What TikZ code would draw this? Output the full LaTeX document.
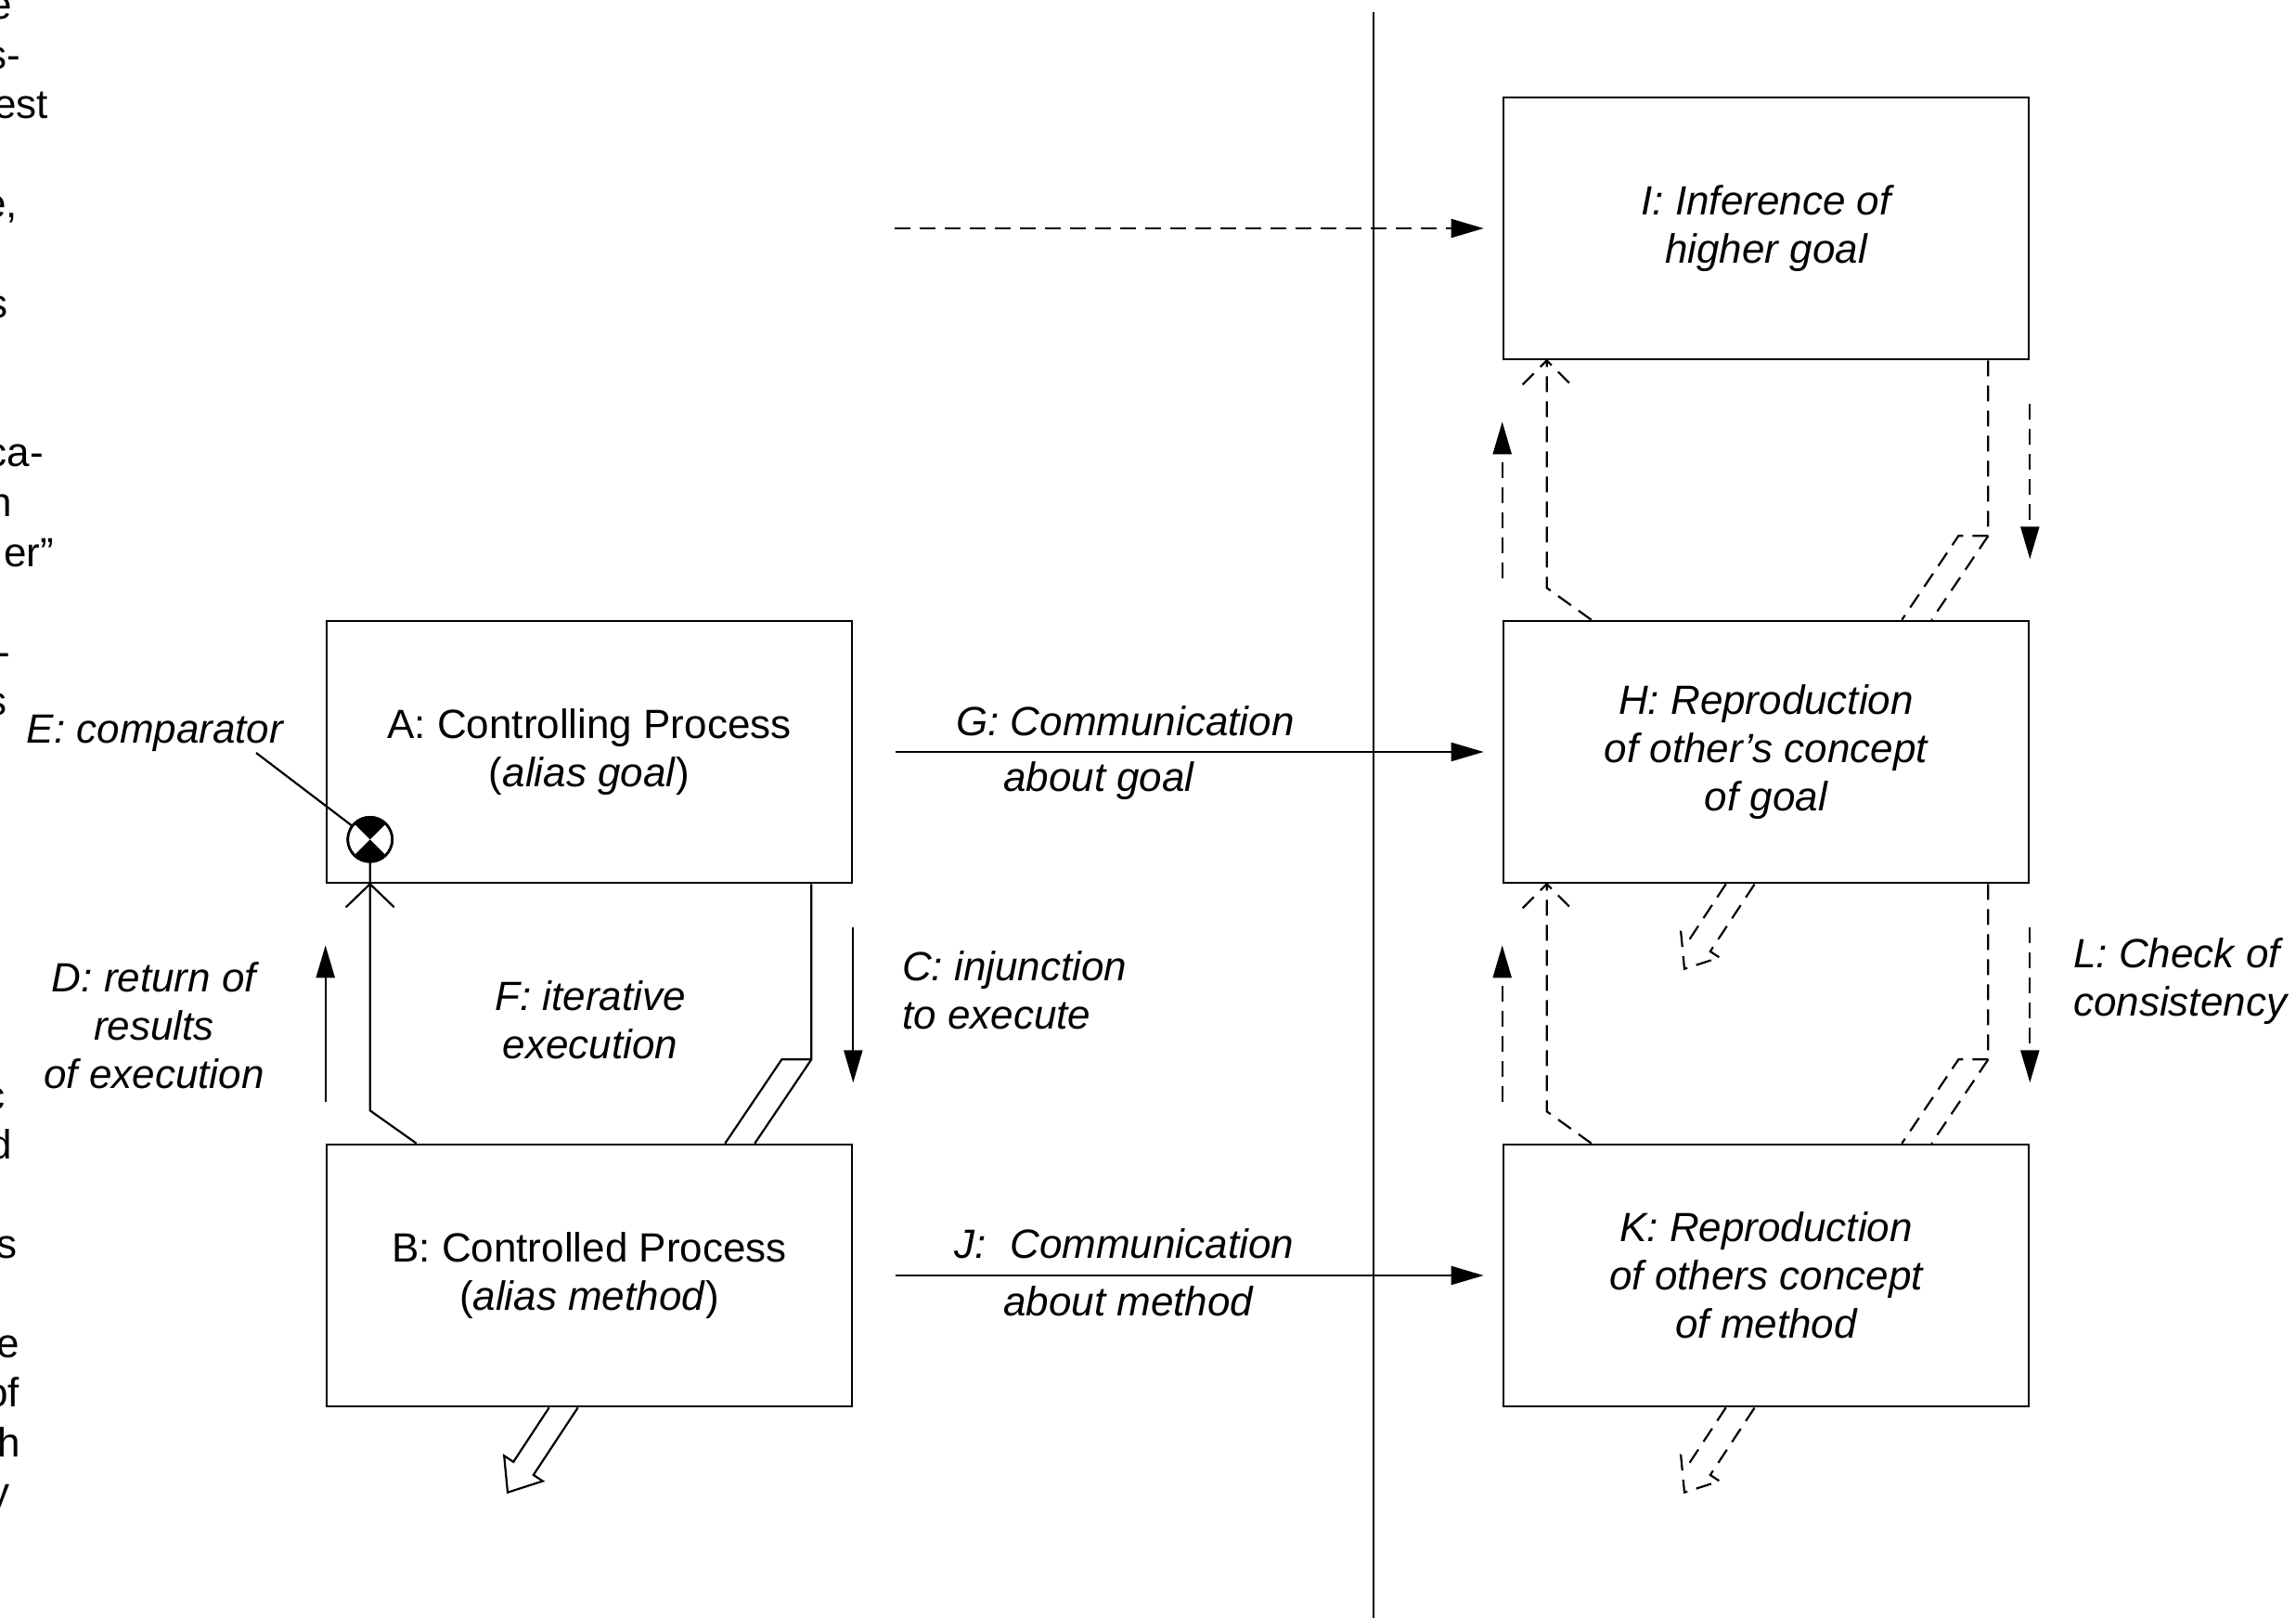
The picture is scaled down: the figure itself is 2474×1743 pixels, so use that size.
\documentclass[tikz,border=0pt]{standalone}
\usepackage{fontspec}
\setmainfont{Liberation Sans}
\usetikzlibrary{arrows.meta,calc}
\tikzset{
  box/.style={draw,line width=2.6pt,minimum width=566pt,minimum height=282pt,
    inner sep=0pt,align=center,font=\fontsize{44}{52}\selectfont},
  ibox/.style={box,font=\fontsize{44}{52}\selectfont\itshape},
  lbl/.style={inner sep=0pt,font=\fontsize{44}{52}\selectfont\itshape},
  frag/.style={inner sep=0pt,anchor=base east,font=\fontsize{44}{53}\selectfont},
  conn/.style={line width=2.2pt},
  tip/.style={-{Triangle[length=35pt,width=20pt]}},
  dsh/.style={dash pattern=on 17pt off 10pt},
  outarrow/.pic={\draw[pic actions] (0,0) -- (-38.5,58.5) -- (-48.5,51.9) -- (-44.7,91.4)
     -- (-6.9,79.2) -- (-16.9,72.6) -- (31,0);},
}
\begin{document}
\begin{tikzpicture}[x=1pt,y=-1pt]
\clip (0,0) rectangle (2474,1743);

% cut-off words of the neighbouring text column
\node[frag] (f1) at (13,20) {e};
\node[frag] (f2) at (22,74) {s-};
\node[frag] (f3) at (52,127) {est};
\node[frag] (f4) at (19,234) {e,};
\node[frag] (f5) at (9,342) {s};
\node[frag] (f6) at (47,502) {ca-};
\node[frag] (f7) at (13,556) {n};
\node[frag] (f8) at (58,610) {er”};
\node[frag] (f9) at (11,717) {-};
\node[frag] (f10) at (8,770) {s};
\node[frag] (f11) at (6,1195) {c};
\node[frag] (f12) at (13,1248) {d};
\node[frag] (f13) at (19,1355) {s};
\node[frag] (f14) at (21,1462) {e};
\node[frag] (f15) at (21,1515) {of};
\node[frag] (f16) at (22,1569) {h};
\node[frag] (f17) at (11,1622) {y};

% dividing line between the two parties
\coordinate (divtop) at (1480,13);
\coordinate (divbot) at (1480,1743);
\draw[line width=2.4pt] (divtop) -- (divbot);

% process boxes
\node[box] (A) at (635,810) {A: Controlling Process\\(\textit{alias goal})};
\node[box] (B) at (635,1374) {B: Controlled Process\\(\textit{alias method})};
\node[ibox] (I) at (1903,246) {I: Inference of\\higher goal};
\node[ibox] (H) at (1903,810) {H: Reproduction\\of other’s concept\\of goal};
\node[ibox] (K) at (1903,1374) {K: Reproduction\\of others concept\\of method};

% comparator
\node[circle,draw,fill=white,line width=2.6pt,minimum size=48pt,inner sep=0pt]
  (cmp) at ($(A.south west)+(48,-48)$) {};
\fill (cmp.center) -- ($(cmp.center)+(45:24)$) arc[start angle=45,end angle=135,radius=24] -- cycle;
\fill (cmp.center) -- ($(cmp.center)+(225:24)$) arc[start angle=225,end angle=315,radius=24] -- cycle;
\draw[line width=2.6pt] (cmp.center) circle[radius=24];
\coordinate (Etail) at (276,811);
\draw[conn] (Etail) -- (cmp);
\node[lbl,anchor=base] (Elab) at (167,800) {E: comparator};

% iterative loop between A and B
\draw[conn] ($(B.north west)+(98,0)$) -- ($(A.south west)+(48,244)$) -- (cmp.south);
\draw[conn] ($(A.south west)+(22,25)$) -- ($(A.south west)+(48,0)$) -- ($(A.south west)+(74,25)$);
\draw[conn] ($(A.south east)+(-45,0)$) -- ($(A.south east)+(-45,189)$) -- ($(B.north east)+(-106,0)$);
\draw[conn] ($(A.south east)+(-45,189)$) -- ($(A.south east)+(-77,189)$) -- ($(B.north east)+(-138,0)$);
\pic[conn] at ($(B.south west)+(241,0)$) {outarrow};
\draw[conn,tip] ($(A.south west)+(0,235)$) -- ($(A.south west)+(0,66)$);
\draw[conn,tip] ($(A.south east)+(0,47)$) -- ($(A.south east)+(0,214)$);

% dashed loops on the receiving side
\foreach \u/\l in {I/H,H/K}{
  \draw[conn,dsh] ($(\l.north west)+(96,0)$) -- ($(\u.south west)+(48,245)$) -- ($(\u.south west)+(48,0)$);
  \draw[conn,dsh] ($(\u.south west)+(22,26)$) -- ($(\u.south west)+(48,0)$) -- ($(\u.south west)+(74,26)$);
  \draw[conn,dsh] ($(\u.south east)+(-45,0)$) -- ($(\u.south east)+(-45,189)$) -- ($(\l.north east)+(-106,0)$);
  \draw[conn,dsh] ($(\u.south east)+(-45,189)$) -- ($(\u.south east)+(-77,189)$) -- ($(\l.north east)+(-138,0)$);
  \draw[conn,dsh,tip] ($(\u.south west)+(0,235)$) -- ($(\u.south west)+(0,66)$);
  \draw[conn,dsh,tip] ($(\u.south east)+(0,47)$) -- ($(\u.south east)+(0,214)$);
}
\pic[conn,dsh] at ($(H.south west)+(241,0)$) {outarrow};
\pic[conn,dsh] at ($(K.south west)+(241,0)$) {outarrow};

% communication arrows
\coordinate (topstart) at (964,246);
\draw[conn,dsh,tip] (topstart) -- ($(I.west)+(-20,0)$);
\draw[conn,tip] ($(A.east)+(46,0)$) -- ($(H.west)+(-20,0)$);
\draw[conn,tip] ($(B.east)+(46,0)$) -- ($(K.west)+(-20,0)$);

% labels
\node[lbl,align=center] (Dlab) at (166,1105) {D: return of\\results\\of execution};
\node[lbl,align=center] (Flab) at (636,1099) {F: iterative\\execution};
\node[lbl,align=left,anchor=west] (Clab) at (972,1067) {C: injunction\\to execute};
\node[lbl,anchor=base west] (G1) at (1030,792) {G: Communication};
\node[lbl,anchor=base west] (G2) at (1081,852) {about goal};
\node[lbl,anchor=base west] (J1) at (1028,1355) {J:\hspace{26pt}Communication};
\node[lbl,anchor=base west] (J2) at (1081,1417) {about method};
\node[lbl,align=left,anchor=west] (Llab) at (2234,1057) {L: Check of\\consistency};
\end{tikzpicture}
\end{document}
